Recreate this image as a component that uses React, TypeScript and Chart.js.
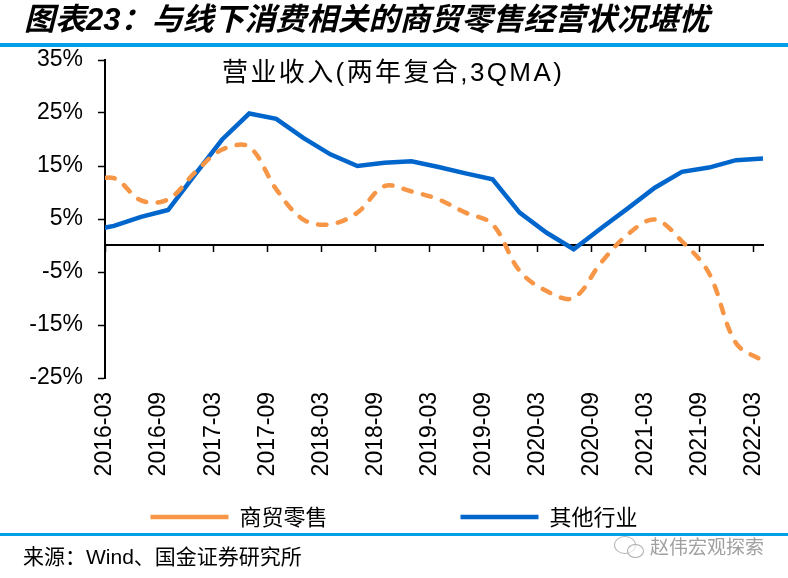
import React, { useEffect, useRef } from "react";
import { Chart, registerables } from "chart.js";

Chart.register(...registerables);

// Quarter-end dates of the series (first one lies before the axis start and is clipped)
const quarters = [
  "2015-12",
  "2016-03", "2016-06", "2016-09", "2016-12",
  "2017-03", "2017-06", "2017-09", "2017-12",
  "2018-03", "2018-06", "2018-09", "2018-12",
  "2019-03", "2019-06", "2019-09", "2019-12",
  "2020-03", "2020-06", "2020-09", "2020-12",
  "2021-03", "2021-06", "2021-09", "2021-12",
  "2022-03",
];

// 商贸零售 (%)
const retail = [
  11.8,
  12.7, 8.5, 8.7, 13.8,
  18.1, 18.6, 10.6, 4.9,
  4.0, 6.2, 11.2, 10.2,
  8.7, 6.2, 4.0, -4.8,
  -8.6, -9.9, -3.3, 2.1,
  4.9, 0.8, -5.2, -18.4,
  -21.8,
];

// 其他行业 (%)
const others = [
  2.7,
  3.7, 5.4, 6.7, 13.4,
  20.0, 24.9, 23.9, 20.3,
  17.2, 15.0, 15.6, 15.9,
  14.8, 13.6, 12.5, 6.2,
  2.4, -0.7, 3.2, 7.0,
  10.9, 13.9, 14.7, 16.1,
  16.4,
];

const xTickLabels = [
  "2016-03", "2016-09", "2017-03", "2017-09", "2018-03", "2018-09", "2019-03",
  "2019-09", "2020-03", "2020-09", "2021-03", "2021-09", "2022-03",
];

const yTicks = [-25, -15, -5, 5, 15, 25, 35];

const seriesNames = ["商贸零售", "其他行业"];

const ORANGE = "#F79646";
const BLUE = "#0066CC";
const BAR = "#00A0E9";

// months since 2016-03-01 (start of month)
const monthStart = (s: string) => {
  const [y, m] = s.split("-").map(Number);
  return (y - 2016) * 12 + (m - 3);
};
// quarter-end position (end of that month)
const monthEnd = (s: string) => monthStart(s) + 1;

const X_MIN = monthStart(xTickLabels[0]);
const X_MAX = monthEnd(quarters[quarters.length - 1]);

const setXTicks = (scale: any) => {
  scale.ticks = xTickLabels.map((l) => ({ value: monthStart(l) }));
};
const xLabelFor = (v: number) => {
  const found = xTickLabels.find((l) => monthStart(l) === v);
  return found ?? "";
};

// ideographic spaces widen the first legend entry so the two entries sit apart
const LEGEND_GAP = "\u3000\u3000\u3000\u3000\u3000";

export default function App() {
  const ref = useRef<HTMLCanvasElement | null>(null);

  useEffect(() => {
    if (!ref.current) return;
    const chart = new Chart(ref.current, {
      type: "line",
      data: {
        datasets: [
          {
            label: seriesNames[0],
            data: quarters.map((q, i) => ({ x: monthEnd(q), y: retail[i] })),
            borderColor: ORANGE,
            backgroundColor: ORANGE,
            borderWidth: 4.5,
            borderDash: [8.5, 11.5],
            borderCapStyle: "round",
            tension: 0.35,
            pointRadius: 0,
            clip: { left: 0, right: 3, top: 5, bottom: 5 } as any,
          },
          {
            label: seriesNames[1],
            data: quarters.map((q, i) => ({ x: monthEnd(q), y: others[i] })),
            borderColor: BLUE,
            backgroundColor: BLUE,
            borderWidth: 4.5,
            tension: 0,
            pointRadius: 0,
            clip: { left: 0, right: 3, top: 5, bottom: 5 } as any,
          },
        ],
      },
      options: {
        animation: false,
        responsive: false,
        events: [],
        layout: { padding: { top: 60, left: 0, right: 0, bottom: 40 } },
        scales: {
          x: {
            type: "linear",
            position: "bottom",
            min: X_MIN,
            max: X_MAX,
            afterBuildTicks: setXTicks,
            afterFit: (s: any) => {
              s.height = 105;
              s.paddingLeft = 0;
              s.paddingRight = 0;
            },
            grid: { display: false, drawTicks: false },
            border: { display: false },
            ticks: {
              autoSkip: false,
              minRotation: 90,
              maxRotation: 90,
              padding: 14,
              color: "#000",
              font: { family: "'Liberation Sans', Arial, sans-serif", size: 23 },
              callback: (v: any) => xLabelFor(Number(v)),
            },
          },
          x2: {
            type: "linear",
            position: { y: 0 } as any,
            min: X_MIN,
            max: X_MAX,
            afterBuildTicks: setXTicks,
            afterFit: (s: any) => {
              s.paddingLeft = 0;
              s.paddingRight = 0;
            },
            grid: {
              drawOnChartArea: false,
              drawTicks: true,
              tickLength: 6,
              tickColor: "#000",
              tickWidth: 1.5,
            },
            border: { display: true, color: "#000", width: 2 },
            ticks: { display: false },
          },
          y: {
            type: "linear",
            position: "left",
            min: yTicks[0],
            max: yTicks[yTicks.length - 1],
            afterBuildTicks: (scale: any) => {
              scale.ticks = yTicks.map((v) => ({ value: v }));
            },
            afterFit: (s: any) => {
              s.width = 105;
            },
            grid: {
              drawOnChartArea: false,
              drawTicks: true,
              tickLength: 7,
              tickColor: "#000",
              tickWidth: 1.5,
            },
            border: { display: true, color: "#000", width: 2 },
            ticks: {
              padding: 15,
              color: "#000",
              font: { family: "'Liberation Sans', Arial, sans-serif", size: 23 },
              callback: (v: any) => `${v}%`,
            },
          },
          y2: {
            type: "linear",
            position: "right",
            min: yTicks[0],
            max: yTicks[yTicks.length - 1],
            afterFit: (s: any) => {
              s.width = 25;
            },
            grid: { display: false, drawTicks: false },
            border: { display: false },
            ticks: { display: false },
          },
        },
        plugins: {
          title: { display: false },
          tooltip: { enabled: false },
          legend: {
            display: true,
            position: "bottom",
            align: "center",
            labels: {
              usePointStyle: true,
              pointStyle: "line",
              pointStyleWidth: 78,
              padding: 23,
              color: "#000",
              font: { family: "'Noto Sans CJK SC', sans-serif", size: 22 },
              generateLabels: (ch: any) => {
                const items = Chart.defaults.plugins.legend.labels.generateLabels(ch);
                return items.map((it: any, i: number) =>
                  i === 0 ? { ...it, text: it.text + LEGEND_GAP } : it
                );
              },
            },
          },
        },
      },
    });
    return () => chart.destroy();
  }, []);

  return (
    <div
      style={{
        position: "absolute",
        left: 0,
        top: 0,
        width: 788,
        height: 578,
        background: "#fff",
        overflow: "hidden",
      }}
    >
      <canvas ref={ref} width={788} height={578} style={{ position: "absolute", left: 0, top: 0 }} />
      <div
        style={{
          position: "absolute",
          left: 24,
          top: 0,
          height: 40,
          lineHeight: "40px",
          fontSize: 31,
          fontWeight: "bold",
          fontStyle: "italic",
          fontFamily: "'Liberation Sans', 'Noto Sans CJK SC', sans-serif",
          color: "#000",
          whiteSpace: "nowrap",
        }}
      >
        图表23：与线下消费相关的商贸零售经营状况堪忧
      </div>
      <div style={{ position: "absolute", left: 0, top: 43, width: 788, height: 3.5, background: BAR }} />
      <div
        style={{
          position: "absolute",
          left: 222,
          top: 57,
          height: 30,
          lineHeight: "30px",
          fontSize: 26,
          letterSpacing: 2.4,
          fontFamily: "'Liberation Sans', 'Noto Sans CJK SC', sans-serif",
          color: "#000",
          whiteSpace: "nowrap",
        }}
      >
        营业收入(两年复合,3QMA)
      </div>
      <div style={{ position: "absolute", left: 0, top: 533, width: 788, height: 3, background: BAR }} />
      <div
        style={{
          position: "absolute",
          left: 23,
          top: 543,
          height: 28,
          lineHeight: "28px",
          fontSize: 21,
          fontFamily: "'Liberation Sans', 'Noto Sans CJK SC', sans-serif",
          color: "#000",
          whiteSpace: "nowrap",
        }}
      >
        来源：Wind、国金证券研究所
      </div>
      <div
        style={{
          position: "absolute",
          left: 614,
          top: 536,
          width: 20,
          height: 16,
          border: "1.5px solid #aaa",
          borderRadius: "50%",
          opacity: 0.9,
        }}
      />
      <div
        style={{
          position: "absolute",
          left: 627,
          top: 544,
          width: 15,
          height: 12,
          border: "1.5px solid #aaa",
          borderRadius: "50%",
          background: "rgba(255,255,255,0.6)",
        }}
      />
      <div
        style={{
          position: "absolute",
          left: 650,
          top: 533,
          height: 26,
          lineHeight: "26px",
          fontSize: 19,
          fontFamily: "'Noto Sans CJK SC', sans-serif",
          color: "#a0a0a0",
          whiteSpace: "nowrap",
        }}
      >
        赵伟宏观探索
      </div>
    </div>
  );
}
